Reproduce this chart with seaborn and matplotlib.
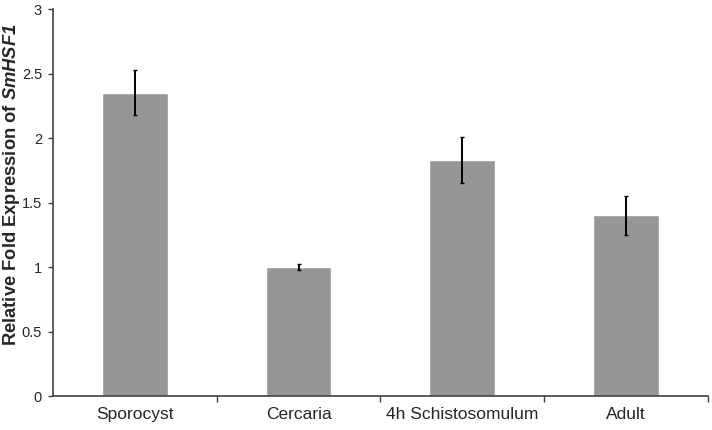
import matplotlib
matplotlib.use("Agg")
import matplotlib.pyplot as plt
import seaborn as sns

stages = ["Sporocyst", "Cercaria", "4h Schistosomulum", "Adult"]
fold_expression = [2.35, 1.00, 1.83, 1.40]
errors = [0.175, 0.02, 0.175, 0.15]

sns.set_style("white")
plt.rcParams["font.family"] = ["Liberation Sans", "DejaVu Sans"]
plt.rcParams["mathtext.fontset"] = "custom"
plt.rcParams["mathtext.bfit"] = "Liberation Sans:italic:bold"

fig = plt.figure(figsize=(7.12, 4.3), dpi=100)
ax = fig.add_axes([0.0744, 0.079, 0.9196, 0.9])

sns.barplot(x=stages, y=fold_expression, color="#969696", saturation=1,
            width=0.4, ax=ax)
ax.errorbar(stages, fold_expression, yerr=errors, fmt="none",
            ecolor="black", elinewidth=1.4, capsize=1.5, capthick=1)

ax.set_xlim(-0.5, 3.5)
ax.set_ylim(0, 3)
ax.set_yticks([0, 0.5, 1, 1.5, 2, 2.5, 3])
ax.set_yticklabels(["0", "0.5", "1", "1.5", "2", "2.5", "3"])
ax.set_xticks([0.5, 1.5, 2.5, 3.5], minor=True)
ax.tick_params(axis="x", which="major", length=0, pad=8, labelsize=12.5)
ax.tick_params(axis="x", which="minor", length=4, width=1, color="#404040",
               direction="out", bottom=True)
ax.tick_params(axis="y", length=3.6, width=1, color="#404040", direction="out",
               left=True, labelsize=10.5, pad=4.3)

sns.despine(ax=ax)
for side in ["left", "bottom"]:
    ax.spines[side].set_color("#404040")
    ax.spines[side].set_linewidth(1.2)

ax.set_ylabel(r"Relative Fold Expression of $\mathbfit{SmHSF1}$", fontsize=13.2,
              fontweight="bold")
ax.yaxis.set_label_coords(-0.048, 0.545)
ax.set_xlabel("")

fig.savefig("out.png", dpi=100)
